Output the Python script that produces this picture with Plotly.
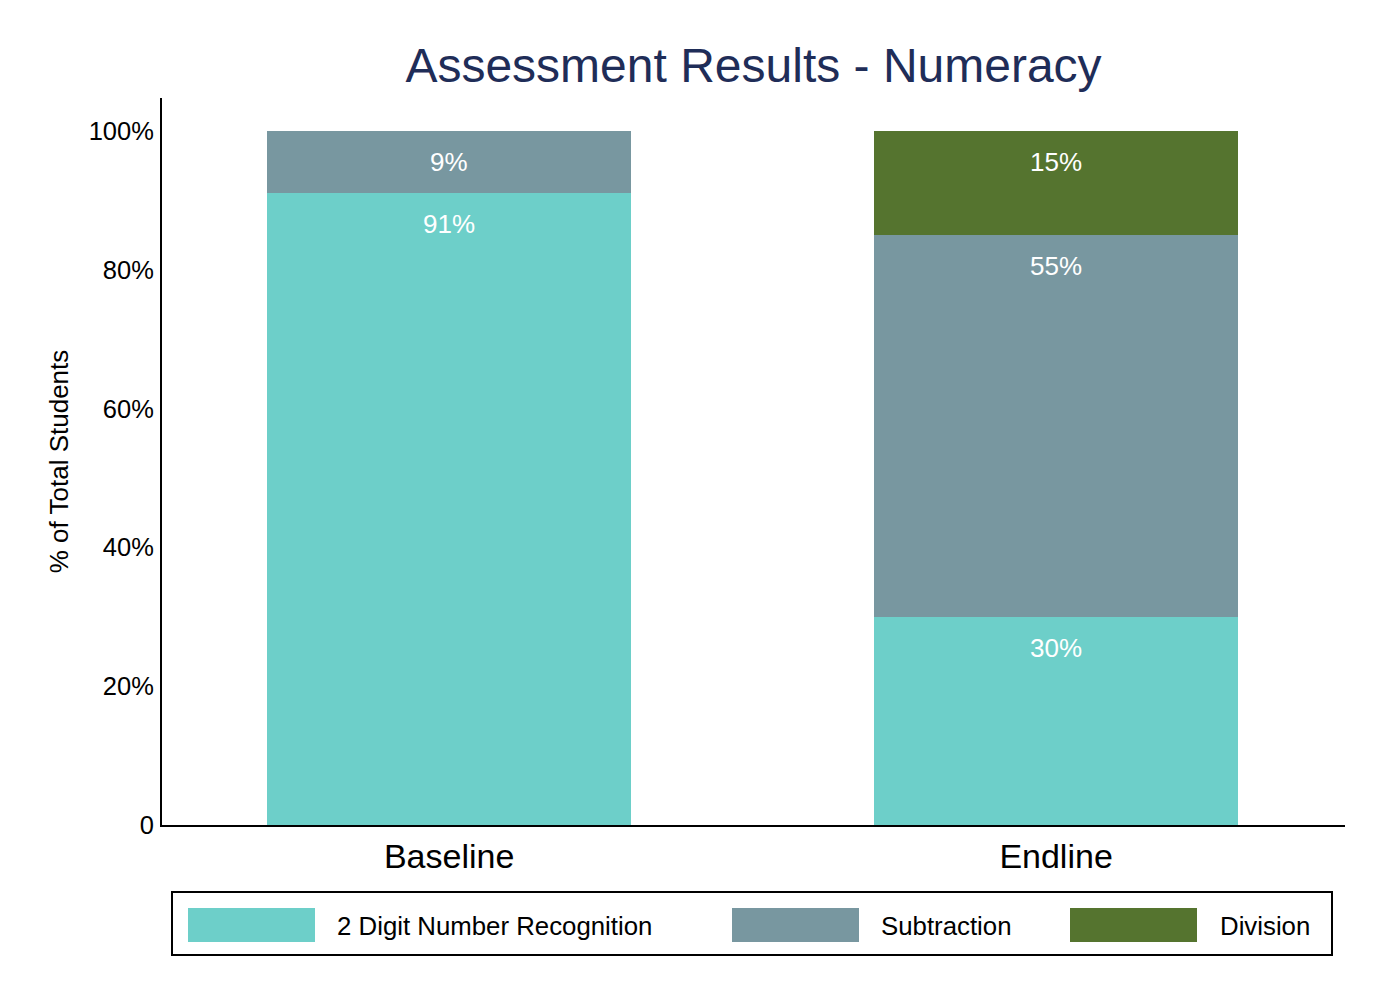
import plotly.graph_objects as go

# ---- data ----
categories = ["Baseline", "Endline"]
series_names = ["2 Digit Number Recognition", "Subtraction", "Division"]
recognition = [91, 30]
subtraction = [9, 55]
division = [0, 15]
series_values = [recognition, subtraction, division]
colors = ["#6DCFC9", "#7897A0", "#55742F"]
y_tick_vals = [0, 20, 40, 60, 80, 100]
y_tick_text = ["0", "20%", "40%", "60%", "80%", "100%"]

FONT = "Liberation Sans, Arial, Helvetica, sans-serif"
OFF = 8  # page body margin
W, H = 1366, 990
ML, MT = 162 - OFF, 98 - OFF
MR = W - (1345 - OFF)
MB = H - (825 - OFF)
PW, PH = W - ML - MR, H - MT - MB

def px(x):
    return (x - OFF - ML) / PW

def py(y):
    return (MT + PH - (y - OFF)) / PH

fig = go.Figure()
for name, vals, col in zip(series_names, series_values, colors):
    fig.add_trace(go.Bar(
        x=categories, y=vals, name=name, marker=dict(color=col, line=dict(width=0)),
        width=0.6, showlegend=False, hoverinfo="x+y+name"))

annotations = []
for i, cat in enumerate(categories):
    cum = 0
    for vals in series_values:
        v = vals[i]
        cum += v
        if v > 0:
            annotations.append(dict(
                x=cat, y=cum, xref="x", yref="y", text=f"{v}%", showarrow=False,
                yanchor="middle", yshift=-31,
                font=dict(family=FONT, size=26, color="white")))

# custom legend
shapes = [dict(type="rect", xref="paper", yref="paper",
               x0=px(172), x1=px(1332), y0=py(955), y1=py(892),
               line=dict(color="black", width=2), fillcolor="rgba(0,0,0,0)")]
sw_x = [188, 732, 1070]
tx_x = [335, 879, 1218]
for name, col, sx, tx in zip(series_names, colors, sw_x, tx_x):
    shapes.append(dict(type="rect", xref="paper", yref="paper",
                       x0=px(sx), x1=px(sx + 127), y0=py(942), y1=py(908),
                       line=dict(width=0), fillcolor=col))
    annotations.append(dict(x=px(tx), y=py(926), xref="paper", yref="paper",
                            text=name, showarrow=False, xanchor="left", yanchor="middle",
                            font=dict(family=FONT, size=25.8, color="black")))

fig.update_layout(
    width=W, height=H,
    margin=dict(l=ML, r=MR, t=MT, b=MB, pad=0),
    barmode="stack",
    paper_bgcolor="white", plot_bgcolor="white",
    font=dict(family=FONT, color="black"),
    title=dict(text="Assessment Results - Numeracy", x=0.5, xref="paper",
               y=1 - (65 - OFF) / H, yref="container", xanchor="center", yanchor="middle",
               font=dict(family=FONT, size=48, color="#1F2D58")),
    xaxis=dict(range=[-0.473, 1.476], showline=True, linecolor="black", linewidth=2,
               showgrid=False, zeroline=False, ticks="", ticklabelstandoff=0,
               tickfont=dict(family=FONT, size=34, color="black")),
    yaxis=dict(range=[0, 104.75], showline=True, linecolor="black", linewidth=2,
               showgrid=False, zeroline=False, ticks="", ticklabelstandoff=1,
               tickvals=y_tick_vals, ticktext=y_tick_text,
               tickfont=dict(family=FONT, size=25.5, color="black"),
               title=dict(text="% of Total Students", standoff=13,
                          font=dict(family=FONT, size=26, color="black"))),
    shapes=shapes,
    annotations=annotations,
)

fig.write_html("out.html")
